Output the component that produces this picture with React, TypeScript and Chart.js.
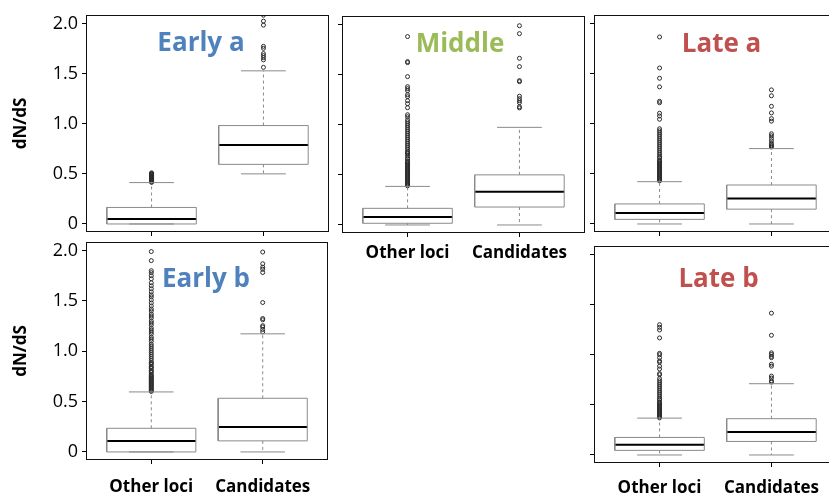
import React, { useEffect, useRef } from "react";
import { Chart, registerables } from "chart.js";
Chart.register(...registerables);

// ---------- data ----------
const categories = ["Other loci", "Candidates"];
const xTickValues = [1, 2];
const yTickValues = [0, 0.5, 1.0, 1.5, 2.0];
const yTickLabels = ["0", "0.5", "1.0", "1.5", "2.0"];
const panelTitles = ["Early a", "Middle", "Late a", "Early b", "Late b"];
const yAxisTitle = "dN/dS";

// Early a
const earlyA_lower = [0, 0.5];
const earlyA_q1 = [0, 0.595];
const earlyA_median = [0.05, 0.787];
const earlyA_q3 = [0.165, 0.982];
const earlyA_upper = [0.413, 1.528];
const earlyA_outOther = [0.415, 0.42, 0.425, 0.43, 0.435, 0.44, 0.445, 0.45, 0.455, 0.46, 0.465, 0.47, 0.475, 0.48, 0.485, 0.49, 0.495, 0.5, 0.505, 0.51];
const earlyA_outCand = [1.563, 1.637, 1.66, 1.68, 1.7, 1.752, 1.772, 1.984, 2.024, 2.083];

// Middle
const middle_lower = [0, 0];
const middle_q1 = [0.017, 0.179];
const middle_median = [0.08, 0.331];
const middle_q3 = [0.166, 0.5];
const middle_upper = [0.385, 0.974];
const middle_outOther = [0.39, 0.4, 0.41, 0.42, 0.43, 0.44, 0.45, 0.46, 0.47, 0.48, 0.49, 0.5, 0.51, 0.52, 0.53, 0.54, 0.55, 0.56, 0.57, 0.58, 0.59, 0.6, 0.61, 0.62, 0.63, 0.64, 0.66, 0.67, 0.69, 0.71, 0.72, 0.73, 0.75, 0.77, 0.79, 0.81, 0.83, 0.85, 0.87, 0.89, 0.91, 0.93, 0.95, 0.97, 0.99, 1.01, 1.03, 1.05, 1.08, 1.1, 1.17, 1.21, 1.24, 1.28, 1.3, 1.34, 1.36, 1.38, 1.48, 1.62, 1.63, 1.88];
const middle_outCand = [1.168, 1.18, 1.22, 1.24, 1.26, 1.285, 1.43, 1.44, 1.58, 1.663, 1.909, 1.988];

// Late a
const lateA_lower = [0, 0];
const lateA_q1 = [0.046, 0.148];
const lateA_median = [0.109, 0.254];
const lateA_q3 = [0.2, 0.389];
const lateA_upper = [0.422, 0.752];
const lateA_outOther = [0.43, 0.44, 0.45, 0.46, 0.47, 0.48, 0.49, 0.5, 0.51, 0.52, 0.53, 0.54, 0.55, 0.56, 0.57, 0.58, 0.59, 0.6, 0.61, 0.62, 0.63, 0.64, 0.66, 0.67, 0.69, 0.71, 0.73, 0.75, 0.77, 0.79, 0.81, 0.83, 0.85, 0.87, 0.89, 0.91, 0.93, 0.95, 1.045, 1.078, 1.105, 1.21, 1.224, 1.368, 1.454, 1.556, 1.866];
const lateA_outCand = [0.768, 0.78, 0.79, 0.804, 0.83, 0.854, 0.88, 0.9, 1.026, 1.051, 1.108, 1.174, 1.279, 1.338];

// Early b
const earlyB_lower = [0, 0];
const earlyB_q1 = [0, 0.11];
const earlyB_median = [0.109, 0.248];
const earlyB_q3 = [0.235, 0.533];
const earlyB_upper = [0.596, 1.173];
const earlyB_outOther = [0.6, 0.61, 0.62, 0.63, 0.64, 0.65, 0.66, 0.67, 0.68, 0.69, 0.7, 0.71, 0.72, 0.73, 0.74, 0.75, 0.76, 0.77, 0.79, 0.8, 0.81, 0.83, 0.84, 0.85, 0.87, 0.88, 0.89, 0.91, 0.93, 0.95, 0.97, 0.99, 1.01, 1.03, 1.05, 1.07, 1.1, 1.12, 1.14, 1.17, 1.19, 1.21, 1.23, 1.26, 1.28, 1.3, 1.33, 1.35, 1.37, 1.4, 1.42, 1.45, 1.48, 1.51, 1.54, 1.56, 1.59, 1.62, 1.65, 1.68, 1.72, 1.75, 1.78, 1.8, 1.9, 1.99];
const earlyB_outCand = [1.193, 1.216, 1.241, 1.254, 1.312, 1.325, 1.484, 1.782, 1.815, 1.835, 1.869, 1.985];

// Late b
const lateB_lower = [0, 0];
const lateB_q1 = [0.046, 0.135];
const lateB_median = [0.102, 0.23];
const lateB_q3 = [0.175, 0.362];
const lateB_upper = [0.368, 0.711];
const lateB_outOther = [0.37, 0.38, 0.39, 0.4, 0.41, 0.42, 0.43, 0.44, 0.45, 0.46, 0.47, 0.48, 0.49, 0.5, 0.51, 0.52, 0.53, 0.55, 0.56, 0.58, 0.6, 0.62, 0.64, 0.66, 0.68, 0.7, 0.72, 0.74, 0.762, 0.8, 0.812, 0.858, 0.886, 0.925, 0.938, 0.971, 1.0, 1.014, 1.168, 1.247, 1.274, 1.3];
const lateB_outCand = [0.727, 0.74, 0.767, 0.787, 0.886, 0.905, 0.971, 0.984, 1.003, 1.019, 1.194, 1.415];

// ---------- styles / layout ----------
const FONT = "'Open Sans', 'DejaVu Sans', sans-serif";
const EARLY_COLOR = "#4F81BD";
const MIDDLE_COLOR = "#9BBB59";
const LATE_COLOR = "#C0504D";
const BOX_HALF = 0.4;
const CAP_HALF = 0.2;
const BOX_COLOR = "#8a8a8a";
const WHISKER_COLOR = "#8a8a8a";
const OUT_COLOR = "#2a2a2a";
const X_MIN = 0.414;
const X_MAX = 2.586;
const Y_MIN = -0.08;
const Y_MAX = 2.085;

type PanelCfg = {
  title: string;
  titleColor: string;
  titleCx: number;
  titleTop: number;
  frame: { x: number; y: number; w: number; h: number };
  ml: number; mt: number; mr: number; mb: number;
  yLabels: boolean; yTitle: boolean; xLabels: boolean; xPad: number;
  lower: number[]; q1: number[]; median: number[]; q3: number[]; upper: number[];
  outliers: number[][];
};

const panels: PanelCfg[] = [
  {
    title: panelTitles[0], titleColor: EARLY_COLOR, titleCx: 201, titleTop: 27.5,
    frame: { x: 86, y: 13, w: 245, h: 219 }, ml: 86, mt: 3, mr: 3, mb: 9,
    yLabels: true, yTitle: true, xLabels: false, xPad: 4,
    lower: earlyA_lower, q1: earlyA_q1, median: earlyA_median, q3: earlyA_q3, upper: earlyA_upper,
    outliers: [earlyA_outOther, earlyA_outCand],
  },
  {
    title: panelTitles[1], titleColor: MIDDLE_COLOR, titleCx: 460, titleTop: 29,
    frame: { x: 342, y: 14, w: 245, h: 219 }, ml: 8, mt: 3, mr: 3, mb: 36,
    yLabels: false, yTitle: false, xLabels: true, xPad: 6,
    lower: middle_lower, q1: middle_q1, median: middle_median, q3: middle_q3, upper: middle_upper,
    outliers: [middle_outOther, middle_outCand],
  },
  {
    title: panelTitles[2], titleColor: LATE_COLOR, titleCx: 721.5, titleTop: 29,
    frame: { x: 594, y: 13, w: 245, h: 219 }, ml: 8, mt: 3, mr: 3, mb: 9,
    yLabels: false, yTitle: false, xLabels: false, xPad: 4,
    lower: lateA_lower, q1: lateA_q1, median: lateA_median, q3: lateA_q3, upper: lateA_upper,
    outliers: [lateA_outOther, lateA_outCand],
  },
  {
    title: panelTitles[3], titleColor: EARLY_COLOR, titleCx: 206, titleTop: 263.6,
    frame: { x: 86, y: 240, w: 244, h: 220 }, ml: 86, mt: 3, mr: 3, mb: 35,
    yLabels: true, yTitle: true, xLabels: true, xPad: 13,
    lower: earlyB_lower, q1: earlyB_q1, median: earlyB_median, q3: earlyB_q3, upper: earlyB_upper,
    outliers: [earlyB_outOther, earlyB_outCand],
  },
  {
    title: panelTitles[4], titleColor: LATE_COLOR, titleCx: 718.5, titleTop: 264.2,
    frame: { x: 594, y: 244, w: 245, h: 219 }, ml: 8, mt: 3, mr: 3, mb: 32,
    yLabels: false, yTitle: false, xLabels: true, xPad: 11,
    lower: lateB_lower, q1: lateB_q1, median: lateB_median, q3: lateB_q3, upper: lateB_upper,
    outliers: [lateB_outOther, lateB_outCand],
  },
];

const framePlugin = {
  id: "frameBox",
  afterDatasetsDraw(chart: any) {
    const { ctx, chartArea: a } = chart;
    ctx.save();
    ctx.strokeStyle = "#111";
    ctx.lineWidth = 1;
    ctx.strokeRect(a.left + 0.5, a.top + 0.5, a.right - a.left - 1, a.bottom - a.top - 1);
    ctx.restore();
  },
};

function lineDs(data: { x: number; y: number }[], color: string, width: number, dash: number[] = []) {
  return {
    type: "scatter" as const,
    data,
    showLine: true,
    borderColor: color,
    borderWidth: width,
    borderDash: dash,
    pointRadius: 0,
    fill: false,
    tension: 0,
  };
}

function buildDatasets(p: PanelCfg) {
  const ds: any[] = [];
  categories.forEach((_, i) => {
    const c = xTickValues[i];
    ds.push(lineDs([{ x: c, y: p.q3[i] }, { x: c, y: p.upper[i] }], WHISKER_COLOR, 1, [3, 3]));
    ds.push(lineDs([{ x: c, y: p.q1[i] }, { x: c, y: p.lower[i] }], WHISKER_COLOR, 1, [3, 3]));
    ds.push(lineDs([{ x: c - CAP_HALF, y: p.upper[i] }, { x: c + CAP_HALF, y: p.upper[i] }], WHISKER_COLOR, 1));
    ds.push(lineDs([{ x: c - CAP_HALF, y: p.lower[i] }, { x: c + CAP_HALF, y: p.lower[i] }], WHISKER_COLOR, 1));
    ds.push(
      lineDs(
        [
          { x: c - BOX_HALF, y: p.q1[i] },
          { x: c + BOX_HALF, y: p.q1[i] },
          { x: c + BOX_HALF, y: p.q3[i] },
          { x: c - BOX_HALF, y: p.q3[i] },
          { x: c - BOX_HALF, y: p.q1[i] },
        ],
        BOX_COLOR,
        1
      )
    );
    ds.push(lineDs([{ x: c - BOX_HALF, y: p.median[i] }, { x: c + BOX_HALF, y: p.median[i] }], "#000", 2));
    ds.push({
      type: "scatter" as const,
      data: p.outliers[i].map((v) => ({ x: c, y: v })),
      showLine: false,
      pointStyle: "circle",
      pointRadius: 2,
      pointBorderWidth: 1,
      pointBorderColor: OUT_COLOR,
      pointBackgroundColor: "rgba(0,0,0,0)",
    });
  });
  return ds;
}

function zeroPadding(s: any) {
  s.paddingTop = 0;
  s.paddingBottom = 0;
  s.paddingLeft = 0;
  s.paddingRight = 0;
}

function Panel({ p }: { p: PanelCfg }) {
  const ref = useRef<HTMLCanvasElement | null>(null);
  const cw = p.ml + p.frame.w + p.mr;
  const chh = p.mt + p.frame.h + p.mb;
  useEffect(() => {
    if (!ref.current) return;
    const chart = new Chart(ref.current, {
      type: "scatter",
      data: { datasets: buildDatasets(p) },
      options: {
        animation: false,
        responsive: false,
        devicePixelRatio: 1,
        events: [],
        layout: { padding: { top: p.mt, right: p.mr, left: 0, bottom: 0 } },
        plugins: { legend: { display: false }, tooltip: { enabled: false }, title: { display: false } },
        scales: {
          x: {
            type: "linear",
            position: "bottom",
            min: X_MIN,
            max: X_MAX,
            afterBuildTicks: (s: any) => {
              s.ticks = xTickValues.map((v) => ({ value: v }));
            },
            afterFit: (s: any) => {
              s.height = p.mb;
              zeroPadding(s);
            },
            ticks: {
              autoSkip: false,
              maxRotation: 0,
              padding: p.xPad,
              color: "#000",
              font: { family: FONT, size: 17, weight: "bold" },
              callback: (v: any) => {
                if (!p.xLabels) return "";
                const idx = xTickValues.indexOf(Number(v));
                return idx >= 0 ? categories[idx] : "";
              },
            },
            grid: { drawOnChartArea: false, drawTicks: true, tickLength: 4, color: "#000", lineWidth: 1 },
            border: { display: false },
          },
          y: {
            type: "linear",
            position: "left",
            min: Y_MIN,
            max: Y_MAX,
            afterBuildTicks: (s: any) => {
              s.ticks = yTickValues.map((v) => ({ value: v }));
            },
            afterFit: (s: any) => {
              s.width = p.ml;
              zeroPadding(s);
            },
            ticks: {
              autoSkip: false,
              padding: 4,
              color: "#000",
              font: { family: FONT, size: 18 },
              callback: (v: any) => {
                if (!p.yLabels) return "";
                const idx = yTickValues.indexOf(Number(v));
                return idx >= 0 ? yTickLabels[idx] : "";
              },
            },
            title: {
              display: p.yTitle,
              text: yAxisTitle,
              color: "#000",
              font: { family: FONT, size: 17, weight: "bold" },
              padding: { top: 11, bottom: 0 },
            },
            grid: { drawOnChartArea: false, drawTicks: true, tickLength: 4, color: "#000", lineWidth: 1 },
            border: { display: false },
          },
        },
      } as any,
      plugins: [framePlugin],
    });
    return () => chart.destroy();
  }, [p]);
  return (
    <>
      <canvas
        ref={ref}
        width={cw}
        height={chh}
        style={{ position: "absolute", left: p.frame.x - p.ml, top: p.frame.y - p.mt, width: cw, height: chh }}
      />
      <div
        style={{
          position: "absolute",
          left: p.titleCx - 100,
          top: p.titleTop,
          width: 200,
          textAlign: "center",
          fontFamily: FONT,
          fontWeight: 700,
          fontSize: 26,
          lineHeight: "26px",
          color: p.titleColor,
          whiteSpace: "nowrap",
        }}
      >
        {p.title}
      </div>
    </>
  );
}

export default function App() {
  return (
    <div
      style={{
        position: "absolute",
        left: 0,
        top: 0,
        width: 829,
        height: 495,
        overflow: "hidden",
        background: "#fff",
      }}
    >
      {panels.map((p, i) => (
        <Panel key={i} p={p} />
      ))}
    </div>
  );
}
